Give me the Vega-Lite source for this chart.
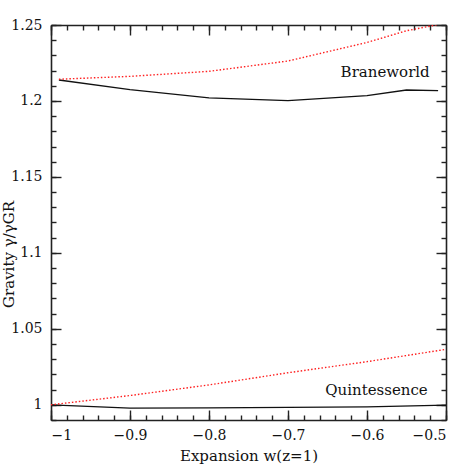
{
  "$schema": "https://vega.github.io/schema/vega-lite/v6.json",
  "autosize": "none",
  "width": 395,
  "height": 395,
  "padding": {"left": 51, "top": 25, "right": 25, "bottom": 51},
  "config": {
    "view": {"stroke": null},
    "font": "DejaVu Serif",
    "axis": {"grid": false, "domainColor": "#222", "tickColor": "#222", "domainWidth": 1.6, "tickWidth": 1.4, "labelFont": "DejaVu Serif", "labelFontSize": 14, "labelColor": "#111", "titleFont": "DejaVu Serif", "titleFontSize": 15, "titleFontWeight": "normal", "titleColor": "#111"}
  },
  "datasets": {
    "curves": [
      {"model": "Braneworld", "curve": "A", "w": -0.99, "gamma": 1.2138},
      {"model": "Braneworld", "curve": "A", "w": -0.9, "gamma": 1.2075},
      {"model": "Braneworld", "curve": "A", "w": -0.8, "gamma": 1.2020},
      {"model": "Braneworld", "curve": "A", "w": -0.7, "gamma": 1.2002},
      {"model": "Braneworld", "curve": "A", "w": -0.6, "gamma": 1.2035},
      {"model": "Braneworld", "curve": "A", "w": -0.55, "gamma": 1.2072},
      {"model": "Braneworld", "curve": "A", "w": -0.51, "gamma": 1.2068},
      {"model": "Quintessence", "curve": "A", "w": -1.0, "gamma": 1.0},
      {"model": "Quintessence", "curve": "A", "w": -0.9, "gamma": 0.9978},
      {"model": "Quintessence", "curve": "A", "w": -0.8, "gamma": 0.998},
      {"model": "Quintessence", "curve": "A", "w": -0.7, "gamma": 0.9983},
      {"model": "Quintessence", "curve": "A", "w": -0.6, "gamma": 0.9987},
      {"model": "Quintessence", "curve": "A", "w": -0.5, "gamma": 0.9998},
      {"model": "Braneworld", "curve": "B", "w": -0.99, "gamma": 1.2143},
      {"model": "Braneworld", "curve": "B", "w": -0.9, "gamma": 1.2162},
      {"model": "Braneworld", "curve": "B", "w": -0.8, "gamma": 1.2195},
      {"model": "Braneworld", "curve": "B", "w": -0.7, "gamma": 1.2263},
      {"model": "Braneworld", "curve": "B", "w": -0.6, "gamma": 1.2385},
      {"model": "Braneworld", "curve": "B", "w": -0.55, "gamma": 1.2462},
      {"model": "Braneworld", "curve": "B", "w": -0.51, "gamma": 1.2503},
      {"model": "Quintessence", "curve": "B", "w": -1.0, "gamma": 1.0},
      {"model": "Quintessence", "curve": "B", "w": -0.9, "gamma": 1.0061},
      {"model": "Quintessence", "curve": "B", "w": -0.8, "gamma": 1.0131},
      {"model": "Quintessence", "curve": "B", "w": -0.7, "gamma": 1.0211},
      {"model": "Quintessence", "curve": "B", "w": -0.6, "gamma": 1.0284},
      {"model": "Quintessence", "curve": "B", "w": -0.5, "gamma": 1.0365}
    ],
    "labels": [
      {"model": "Braneworld", "w": -0.577, "gamma": 1.2193},
      {"model": "Quintessence", "w": -0.588, "gamma": 1.0097}
    ]
  },
  "resolve": {"axis": {"x": "independent", "y": "independent"}},
  "layer": [
    {
      "data": {"name": "curves"},
      "transform": [{"filter": "datum.curve === 'A'"}],
      "mark": {"type": "line", "color": "#111", "strokeWidth": 1.3, "clip": true},
      "encoding": {
        "x": {"field": "w", "type": "quantitative", "scale": {"domain": [-1, -0.5], "nice": false, "zero": false},
          "axis": {"orient": "bottom", "title": "Expansion w(z=1)", "values": [-1, -0.9, -0.8, -0.7, -0.6, -0.5], "format": "~g", "ticks": false, "labelPadding": 8, "titleY": 35, "titleBaseline": "middle"}},
        "y": {"field": "gamma", "type": "quantitative", "scale": {"domain": [0.99, 1.25], "nice": false, "zero": false},
          "axis": {"orient": "left", "title": "Gravity γ/γGR", "values": [1, 1.05, 1.1, 1.15, 1.2, 1.25], "format": "~g", "ticks": false, "labelPadding": 9, "titleX": -43, "titleY": 229, "titleAngle": -90, "titleAlign": "center", "titleBaseline": "middle"}},
        "detail": {"field": "model"}
      }
    },
    {
      "data": {"name": "curves"},
      "transform": [{"filter": "datum.curve === 'B'"}],
      "mark": {"type": "line", "color": "#ff2020", "strokeWidth": 1.4, "strokeDash": [1.5, 2], "clip": true},
      "encoding": {
        "x": {"field": "w", "type": "quantitative",
          "axis": {"orient": "top", "title": null, "labels": false, "values": [-1, -0.9, -0.8, -0.7, -0.6, -0.5], "tickSize": -10}},
        "y": {"field": "gamma", "type": "quantitative",
          "axis": {"orient": "right", "title": null, "labels": false, "values": [1, 1.05, 1.1, 1.15, 1.2, 1.25], "tickSize": -10}},
        "detail": {"field": "model"}
      }
    },
    {
      "data": {"name": "labels"},
      "mark": {"type": "text", "font": "DejaVu Serif", "fontSize": 15, "color": "#111", "align": "center", "baseline": "middle"},
      "encoding": {
        "x": {"field": "w", "type": "quantitative",
          "axis": {"orient": "bottom", "title": null, "labels": false, "domain": false, "values": [-1, -0.9, -0.8, -0.7, -0.6, -0.5], "tickSize": -10}},
        "y": {"field": "gamma", "type": "quantitative",
          "axis": {"orient": "left", "title": null, "labels": false, "domain": false, "values": [1, 1.05, 1.1, 1.15, 1.2, 1.25], "tickSize": -10}},
        "text": {"field": "model"}
      }
    },
    {
      "data": {"name": "labels"},
      "mark": {"type": "text", "opacity": 0},
      "encoding": {
        "x": {"field": "w", "type": "quantitative",
          "axis": {"orient": "bottom", "title": null, "labels": false, "domain": false, "values": [-1, -0.98, -0.96, -0.94, -0.92, -0.9, -0.88, -0.86, -0.84, -0.82, -0.8, -0.78, -0.76, -0.74, -0.72, -0.7, -0.68, -0.66, -0.64, -0.62, -0.6, -0.58, -0.56, -0.54, -0.52, -0.5], "tickSize": -5}},
        "y": {"field": "gamma", "type": "quantitative",
          "axis": {"orient": "left", "title": null, "labels": false, "domain": false, "values": [0.99, 1.0, 1.01, 1.02, 1.03, 1.04, 1.05, 1.06, 1.07, 1.08, 1.09, 1.1, 1.11, 1.12, 1.13, 1.14, 1.15, 1.16, 1.17, 1.18, 1.19, 1.2, 1.21, 1.22, 1.23, 1.24, 1.25], "tickSize": -5}},
        "text": {"field": "model"}
      }
    },
    {
      "data": {"name": "labels"},
      "mark": {"type": "text", "opacity": 0},
      "encoding": {
        "x": {"field": "w", "type": "quantitative",
          "axis": {"orient": "top", "title": null, "labels": false, "domain": false, "values": [-1, -0.98, -0.96, -0.94, -0.92, -0.9, -0.88, -0.86, -0.84, -0.82, -0.8, -0.78, -0.76, -0.74, -0.72, -0.7, -0.68, -0.66, -0.64, -0.62, -0.6, -0.58, -0.56, -0.54, -0.52, -0.5], "tickSize": -5}},
        "y": {"field": "gamma", "type": "quantitative",
          "axis": {"orient": "right", "title": null, "labels": false, "domain": false, "values": [0.99, 1.0, 1.01, 1.02, 1.03, 1.04, 1.05, 1.06, 1.07, 1.08, 1.09, 1.1, 1.11, 1.12, 1.13, 1.14, 1.15, 1.16, 1.17, 1.18, 1.19, 1.2, 1.21, 1.22, 1.23, 1.24, 1.25], "tickSize": -5}},
        "text": {"field": "model"}
      }
    }
  ]
}
